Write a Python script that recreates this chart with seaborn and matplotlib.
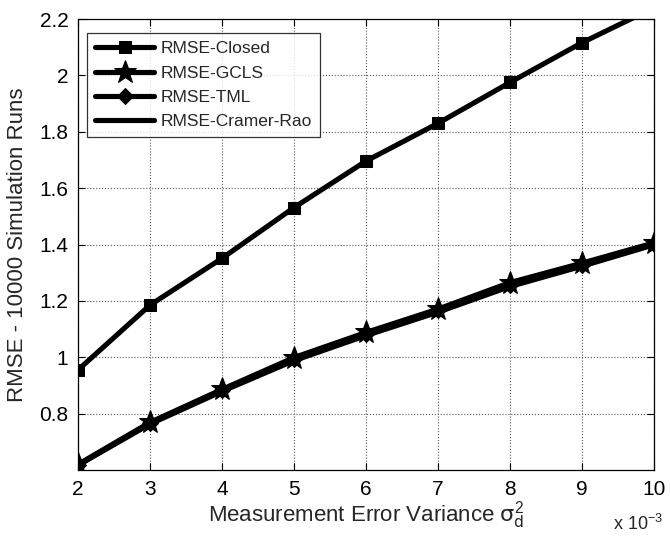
import numpy as np
import pandas as pd
import matplotlib
matplotlib.use('Agg')
import matplotlib.pyplot as plt
import seaborn as sns

# значения по оси x (в единицах 1e-3)
variance = [2, 3, 4, 5, 6, 7, 8, 9, 10]

# RMSE для каждого метода
rmse_closed = [0.955, 1.185, 1.351, 1.531, 1.696, 1.830, 1.975, 2.116, 2.240]
rmse_gcls = [0.620, 0.769, 0.886, 0.999, 1.088, 1.171, 1.265, 1.334, 1.406]
rmse_tml = [0.618, 0.766, 0.883, 0.994, 1.083, 1.166, 1.258, 1.329, 1.403]
rmse_crb = [0.617, 0.763, 0.879, 0.988, 1.077, 1.160, 1.251, 1.323, 1.399]

labels = ['RMSE-Closed', 'RMSE-GCLS', 'RMSE-TML', 'RMSE-Cramer-Rao']
y_ticks = [0.8, 1.0, 1.2, 1.4, 1.6, 1.8, 2.0, 2.2]
y_tick_labels = ['0.8', '1', '1.2', '1.4', '1.6', '1.8', '2', '2.2']

sns.set_style('ticks')
plt.rcParams['font.family'] = ['Liberation Sans', 'DejaVu Sans']
plt.rcParams['mathtext.fontset'] = 'custom'
plt.rcParams['mathtext.rm'] = 'Liberation Sans'
plt.rcParams['mathtext.it'] = 'DejaVu Sans'

fig = plt.figure(figsize=(6.7, 5.4), dpi=100)
ax = fig.add_axes([0.1164, 0.1296, 0.8597, 0.8352])

df = pd.DataFrame({'x': variance})
styles = [
    (rmse_closed, 's', 9, slice(0, 8)),
    (rmse_gcls, '*', 17, None),
    (rmse_tml, 'D', 8, None),
    (rmse_crb, None, 0, None),
]
for (vals, mk, ms, every), lab in zip(styles, labels):
    df['y'] = vals
    sns.lineplot(data=df, x='x', y='y', ax=ax, color='black', lw=3.7,
                 marker=mk, markersize=ms, markevery=every,
                 markeredgecolor='black', markerfacecolor='black',
                 label=lab)

ax.set_xlim(2, 10)
ax.set_ylim(0.6, 2.2)
ax.set_xticks(variance)
ax.set_yticks(y_ticks)
ax.set_yticklabels(y_tick_labels)
ax.tick_params(direction='in', length=5, width=0.8, labelsize=15,
               top=True, right=True, colors='black', pad=7)
for s in ax.spines.values():
    s.set_visible(True)
    s.set_color('black')
    s.set_linewidth(0.9)
ax.grid(True, linestyle=':', color='0.35', linewidth=0.8)

ax.set_xlabel(r'Measurement Error Variance $\sigma_d^2$', fontsize=16, labelpad=0)
ax.set_ylabel('RMSE - 10000 Simulation Runs', fontsize=16, labelpad=8)
fig.text(0.99, 0.03, r'x 10$^{-3}$', fontsize=13, ha='right', va='center')

leg = ax.legend(loc='upper left', bbox_to_anchor=(0.016, 0.968), fontsize=12.5,
                handlelength=3.4, frameon=True, fancybox=False,
                borderpad=0.45, labelspacing=0.52, handletextpad=0.4,
                borderaxespad=0.0)
leg.get_frame().set_edgecolor('black')
leg.get_frame().set_linewidth(0.9)

plt.savefig('out.png', dpi=100)
